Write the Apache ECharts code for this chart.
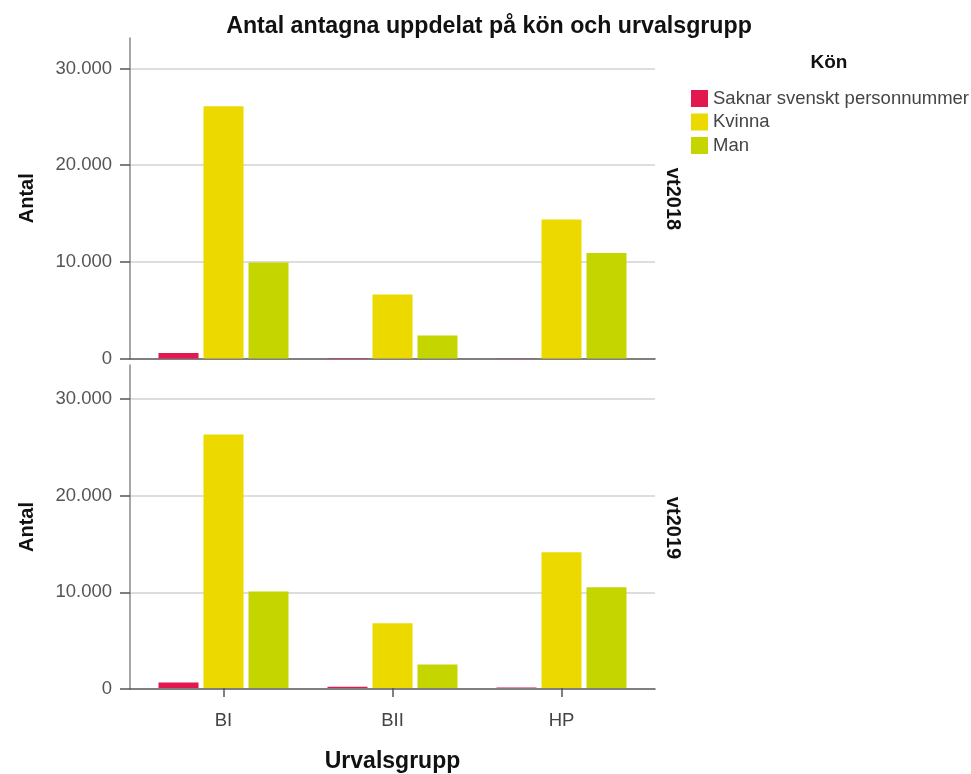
<!DOCTYPE html>
<html>
<head>
<meta charset="utf-8">
<script src="https://cdn.jsdelivr.net/npm/echarts@6/dist/echarts.min.js"></script>
<style>html,body{margin:0;padding:0;background:#fff;}#c{width:971px;height:774px;}</style>
</head>
<body>
<div id="c"></div>
<script>
// ---- data ----
const categories = ['BI', 'BII', 'HP'];
const seriesNames = ['Saknar svenskt personnummer', 'Kvinna', 'Man'];
const panels = ['vt2018', 'vt2019'];
const vt2018_saknar = [560, 40, 30];
const vt2018_kvinna = [26100, 6620, 14380];
const vt2018_man = [9930, 2380, 10900];
const vt2019_saknar = [560, 140, 40];
const vt2019_kvinna = [26280, 6720, 14070];
const vt2019_man = [10000, 2450, 10450];
const yTicks = [0, 10000, 20000, 30000];

const FONT = "'Liberation Sans', Arial, sans-serif";
const colors = ['#E2194E', '#EBD900', '#C5D500'];
const fmt = v => String(v).replace(/\B(?=(\d{3})+(?!\d))/g, '.');

const chart = echarts.init(document.getElementById('c'));

const panelGeo = [
  {top: 38, height: 320.5, max: 33150},
  {top: 365, height: 324, max: 33500}
];
const grids = [], xAxes = [], yAxes = [], series = [];
const panelData = [
  [vt2018_saknar, vt2018_kvinna, vt2018_man],
  [vt2019_saknar, vt2019_kvinna, vt2019_man]
];

panelGeo.forEach((g, p) => {
  const ga = grids.length;
  grids.push({left: 130, top: g.top, width: 525, height: g.height});
  grids.push({left: 139, top: g.top, width: 507, height: g.height});
  // overlay axes grid
  xAxes.push({gridIndex: ga, type: 'value', min: 0, max: 1,
    axisLine: {show: true, onZero: false, lineStyle: {color: '#555', width: 1.5}},
    axisTick: {show: false}, axisLabel: {show: false}, splitLine: {show: false}});
  yAxes.push({gridIndex: ga, type: 'value', min: 0, max: g.max, interval: 10000,
    name: 'Antal', nameLocation: 'middle', nameRotate: 90, nameGap: 93,
    nameTextStyle: {fontFamily: FONT, fontSize: 20, fontWeight: 'bold', color: '#111'},
    axisLine: {show: true, lineStyle: {color: '#888', width: 1.5}},
    axisTick: {show: true, length: 10, customValues: yTicks, lineStyle: {color: '#555', width: 1.5}},
    axisLabel: {show: true, customValues: yTicks, formatter: fmt, margin: 18,
      fontFamily: FONT, fontSize: 18.5, color: '#555'},
    splitLine: {show: true, showMinLine: false, lineStyle: {color: '#d2d2d2', width: 1.5}}});
  // bar grid
  const isBottom = p === 1;
  xAxes.push({gridIndex: ga + 1, type: 'category', data: categories,
    axisLine: {show: false},
    axisTick: {show: isBottom, alignWithLabel: true, length: 9, lineStyle: {color: '#555', width: 1.5}},
    axisLabel: {show: isBottom, margin: 23, fontFamily: FONT, fontSize: 18.5, color: '#444'},
    name: isBottom ? 'Urvalsgrupp' : '', nameLocation: 'middle', nameGap: 62,
    nameTextStyle: {fontFamily: FONT, fontSize: 23, fontWeight: 'bold', color: '#111'},
    splitLine: {show: false}});
  yAxes.push({gridIndex: ga + 1, type: 'value', min: 0, max: g.max, show: false});
  panelData[p].forEach((arr, i) => {
    series.push({
      name: seriesNames[i], type: 'bar', xAxisIndex: ga + 1, yAxisIndex: ga + 1,
      data: arr, barWidth: 40, barGap: '12.5%',
      itemStyle: {color: colors[i]}, silent: true
    });
  });
});

chart.setOption({
  animation: false,
  backgroundColor: '#fff',
  textStyle: {fontFamily: FONT},
  title: {text: 'Antal antagna uppdelat på kön och urvalsgrupp', left: 484, top: 10,
    textAlign: 'center',
    textStyle: {fontFamily: FONT, fontSize: 23.2, fontWeight: 'bold', color: '#111'}},
  legend: {orient: 'vertical', left: 691, top: 89, padding: 0, itemWidth: 17, itemHeight: 17,
    itemGap: 4.5, icon: 'rect', data: seriesNames,
    textStyle: {fontFamily: FONT, fontSize: 18.5, color: '#444'}},
  grid: grids, xAxis: xAxes, yAxis: yAxes, series: series,
  graphic: [
    {type: 'text', x: 829, y: 63, style: {text: 'Kön', fontFamily: FONT, fontSize: 19, fontWeight: 'bold', fill: '#111', align: 'center', verticalAlign: 'middle'}},
    {type: 'text', x: 673, y: 199, rotation: -Math.PI / 2,
      style: {text: panels[0], fontFamily: FONT, fontSize: 20, fontWeight: 'bold', fill: '#111', align: 'center', verticalAlign: 'middle'}},
    {type: 'text', x: 673, y: 528, rotation: -Math.PI / 2,
      style: {text: panels[1], fontFamily: FONT, fontSize: 20, fontWeight: 'bold', fill: '#111', align: 'center', verticalAlign: 'middle'}}
  ]
});
</script>
</body>
</html>
